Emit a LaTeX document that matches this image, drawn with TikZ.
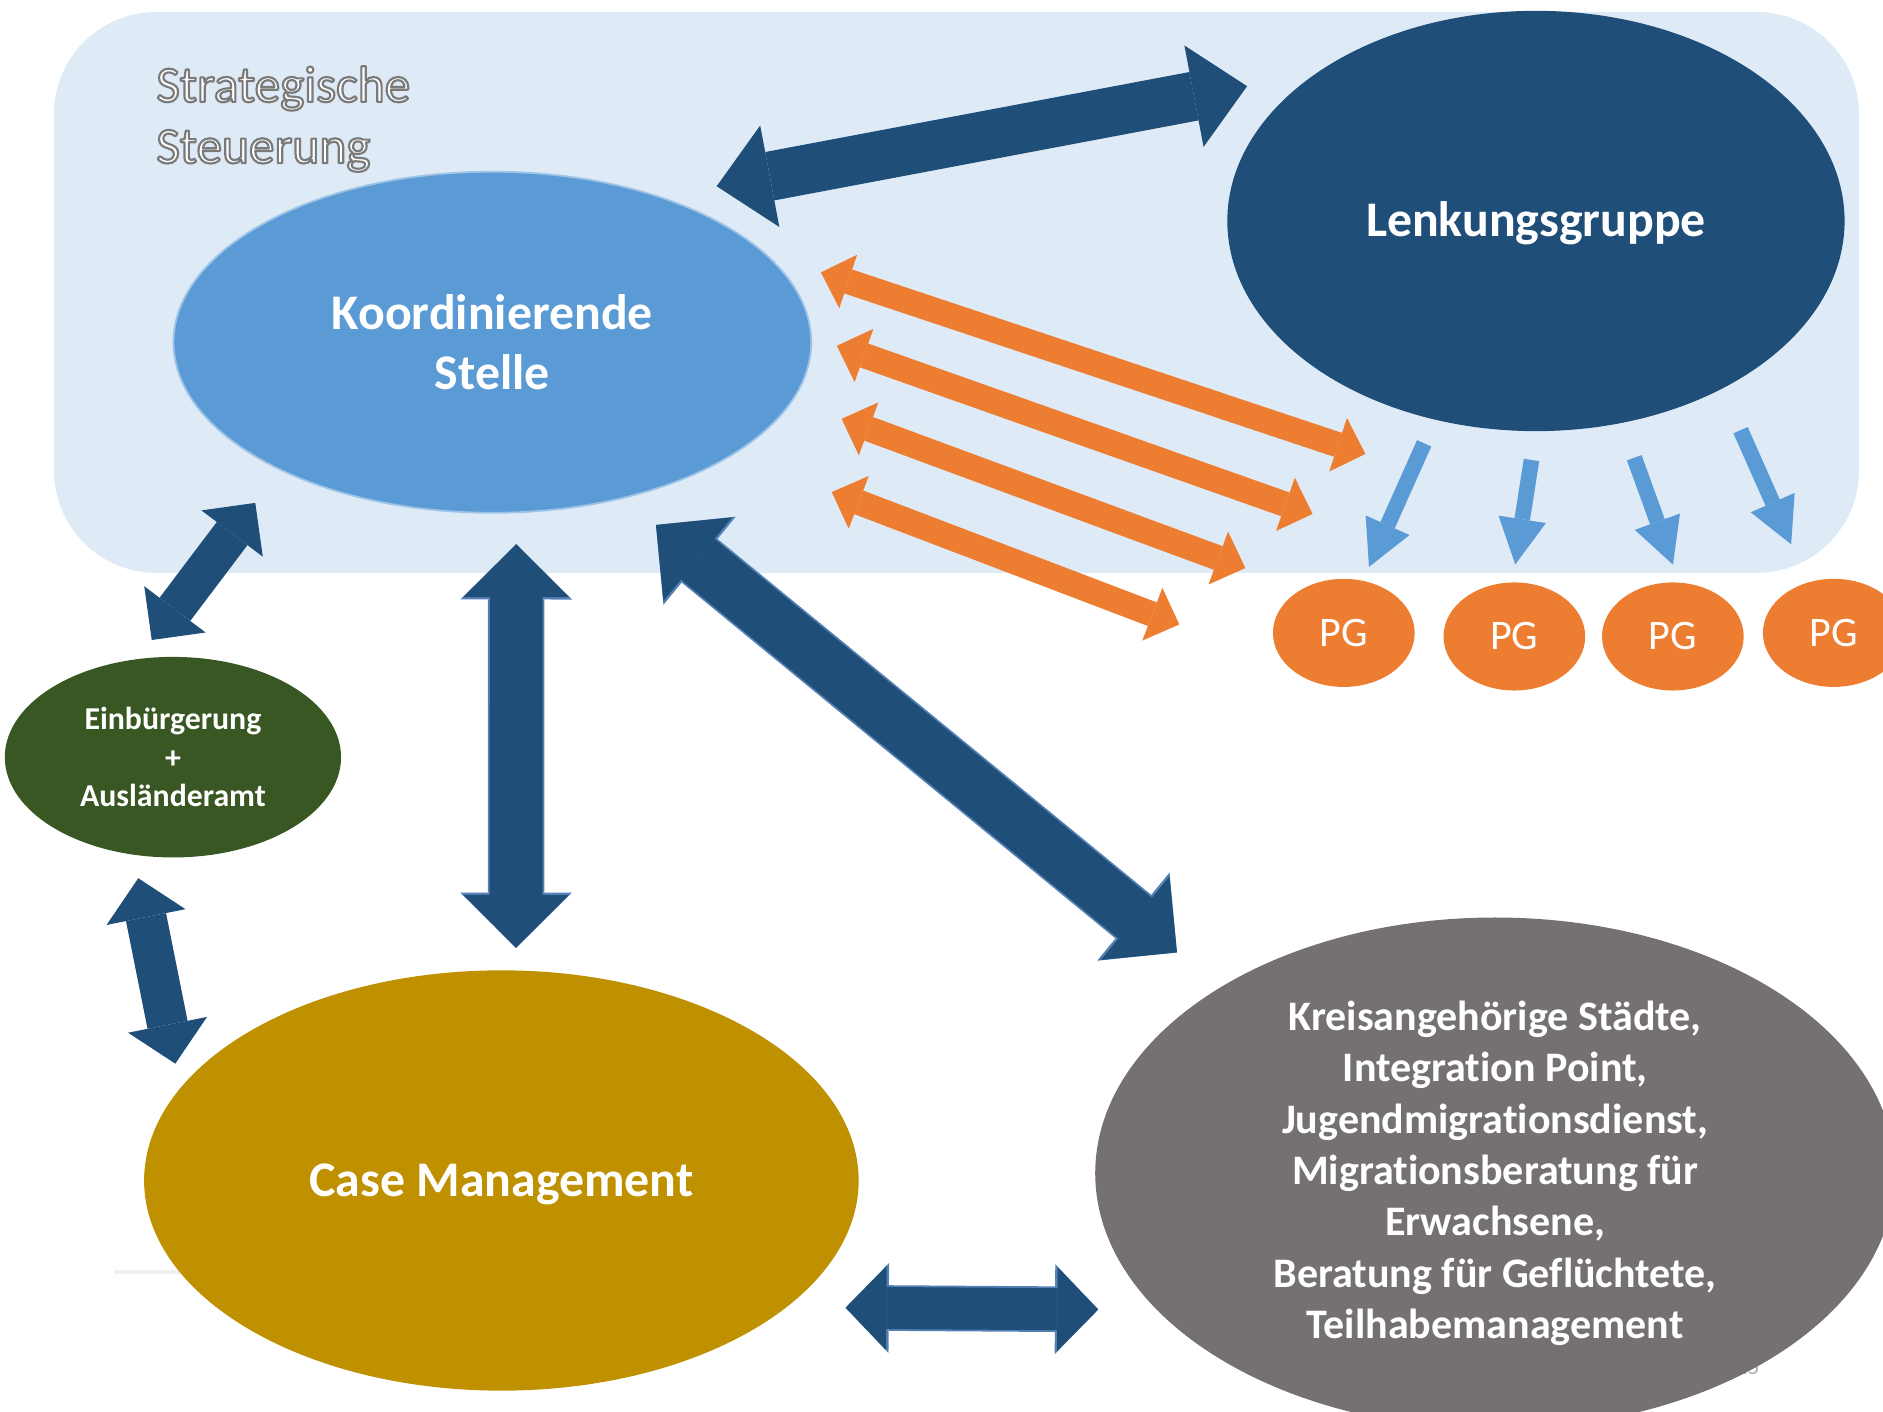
\documentclass[tikz,border=0pt]{standalone}
\usepackage{fontspec}
\setmainfont{Carlito}[Ligatures=NoCommon]
\usepackage{xcolor}
\usepackage{tikz}
\usetikzlibrary{shapes.geometric, arrows.meta}
\definecolor{PanelBlue}{HTML}{DEEBF7}
\definecolor{StelleBlue}{HTML}{5B9BD5}
\definecolor{StelleRim}{HTML}{9DC3E6}
\definecolor{NavyBlue}{HTML}{1F4E79}
\definecolor{NavyRim}{HTML}{5580B4}
\definecolor{PGOrange}{HTML}{ED7D31}
\definecolor{EinbGreen}{HTML}{385723}
\definecolor{CaseGold}{HTML}{BF9000}
\definecolor{KreisGray}{HTML}{767171}
\newcommand{\hollow}[1]{\special{pdf:literal direct 0.478 0.478 0.478 RG 2 Tr 1.8 w 1 j}#1\special{pdf:literal direct 0 Tr}}

\begin{document}
\begin{tikzpicture}[x=1pt, y=-1pt,
  blob/.style={ellipse, inner sep=0pt, outer sep=0pt, text=white, align=center},
  link/.style n args={3}{draw=NavyBlue, line width=#1,
    {Triangle[width=#2, length=#3, line width=0pt]}-{Triangle[width=#2, length=#3, line width=0pt]}},
  rim/.style n args={3}{preaction={draw=NavyRim, line width=#1,
    {Triangle[width=#2, length=#3, line width=0pt]}-{Triangle[width=#2, length=#3, line width=0pt]}}},
  orangelink/.style={draw=PGOrange, line width=21pt,
    {Triangle[width=47pt, length=24pt, line width=0pt]}-{Triangle[width=47pt, length=24pt, line width=0pt]}},
  pglink/.style={draw=StelleBlue, line width=13pt, -{Triangle[width=40pt, length=38pt, line width=0pt]}}]
\useasboundingbox (0,0) rectangle (1568,1175);
\fill[PanelBlue, rounded corners=85pt] (45,10) rectangle (1548,477);
\node[anchor=north west, inner sep=0pt, align=left, text=white, font=\fontsize{42.7}{51}\selectfont] (strat) at (130,55) {\hollow{Strategische}\\\hollow{Steuerung}};
\draw[gray!12, line width=3pt] (95,1059) -- (300,1059);
\node[text=gray!60, font=\fontsize{20}{24}\selectfont] (page) at (1455,1138) {15};

\node[blob, fill=StelleBlue, draw=StelleRim, line width=1.5pt, minimum width=531pt, minimum height=284pt, font=\fontsize{41.5}{50}\selectfont\bfseries] (ks) at (410,285) {Koordinierende\\Stelle};
\node[blob, fill=NavyBlue, minimum width=514pt, minimum height=350pt, text height=26pt, text depth=0pt, font=\fontsize{41.5}{50}\selectfont\bfseries] (lg) at (1279,184) {Lenkungsgruppe};
\node[blob, fill=EinbGreen, minimum width=280pt, minimum height=167pt, font=\fontsize{26.5}{32}\selectfont\bfseries] (einb) at (144,630.5) {Einbürgerung\\+\\Ausländeramt};
\node[blob, fill=CaseGold, minimum width=595pt, minimum height=350pt, text height=26pt, text depth=0pt, font=\fontsize{41.5}{50}\selectfont\bfseries] (cm) at (417.5,983) {Case Management};
\node[blob, fill=KreisGray, minimum width=666pt, minimum height=426pt, font=\fontsize{35}{42.7}\selectfont\bfseries] (kreis) at (1245,977) {Kreisangehörige Städte,\\Integration Point,\\Jugendmigrationsdienst,\\Migrationsberatung für\\Erwachsene,\\Beratung für Geflüchtete,\\Teilhabemanagement};
\node[blob, fill=PGOrange, minimum width=118pt, minimum height=90pt, font=\fontsize{35}{42}\selectfont] (pg1) at (1119,527) {PG};
\node[blob, fill=PGOrange, minimum width=118pt, minimum height=90pt, font=\fontsize{35}{42}\selectfont] (pg2) at (1261,530) {PG};
\node[blob, fill=PGOrange, minimum width=118pt, minimum height=90pt, font=\fontsize{35}{42}\selectfont] (pg3) at (1393,530) {PG};
\node[blob, fill=PGOrange, minimum width=118pt, minimum height=90pt, font=\fontsize{35}{42}\selectfont] (pg4) at (1527,527) {PG};

\coordinate (o1) at (1137,378);
\coordinate (o2) at (1093,428);
\coordinate (o3) at (1037,473);
\coordinate (o4) at (982,520);

\draw[link={41pt}{86pt}{45pt}, shorten <=48.5pt, shorten >=59pt] (ks.41) -- (lg.146);
\draw[orangelink, shorten <=49.2pt] (ks.18) -- (o1);
\draw[orangelink, shorten <=22.8pt] (ks.1) -- (o2);
\draw[orangelink, shorten <=44pt] (ks.349) -- (o3);
\draw[orangelink, shorten <=88.3pt] (ks.335) -- (o4);
\draw[pglink, shorten <=21.7pt, shorten >=12.7pt] (lg.243) -- (pg1.70);
\draw[pglink, shorten <=24.3pt, shorten >=15.2pt] (lg.270) -- (pg2.92);
\draw[pglink, shorten <=30.9pt, shorten >=16pt] (lg.293) -- (pg3.83);
\draw[pglink, shorten <=37.9pt, shorten >=34.8pt] (lg.318) -- (pg4.117);
\draw[link={32pt}{64pt}{32pt}, shorten <=20pt, shorten >=34.7pt] (einb.110) -- (ks.211);
\draw[link={44pt}{88pt}{44pt}, rim={47pt}{93pt}{46pt}, shorten <=26.6pt, shorten >=18.9pt] (ks.278) -- (cm.86);
\draw[link={44pt}{90pt}{45pt}, rim={47pt}{95pt}{47pt}, shorten <=35.6pt, shorten >=46.3pt] (ks.310) -- (kreis.146);
\draw[link={34pt}{67pt}{33pt}, shorten <=20pt, shorten >=21pt] (einb.248) -- (cm.164);
\draw[link={35pt}{70pt}{34pt}, rim={38pt}{75pt}{36pt}, shorten <=49.4pt, shorten >=49pt] (cm.336) -- (kreis.202);
\end{tikzpicture}
\end{document}
